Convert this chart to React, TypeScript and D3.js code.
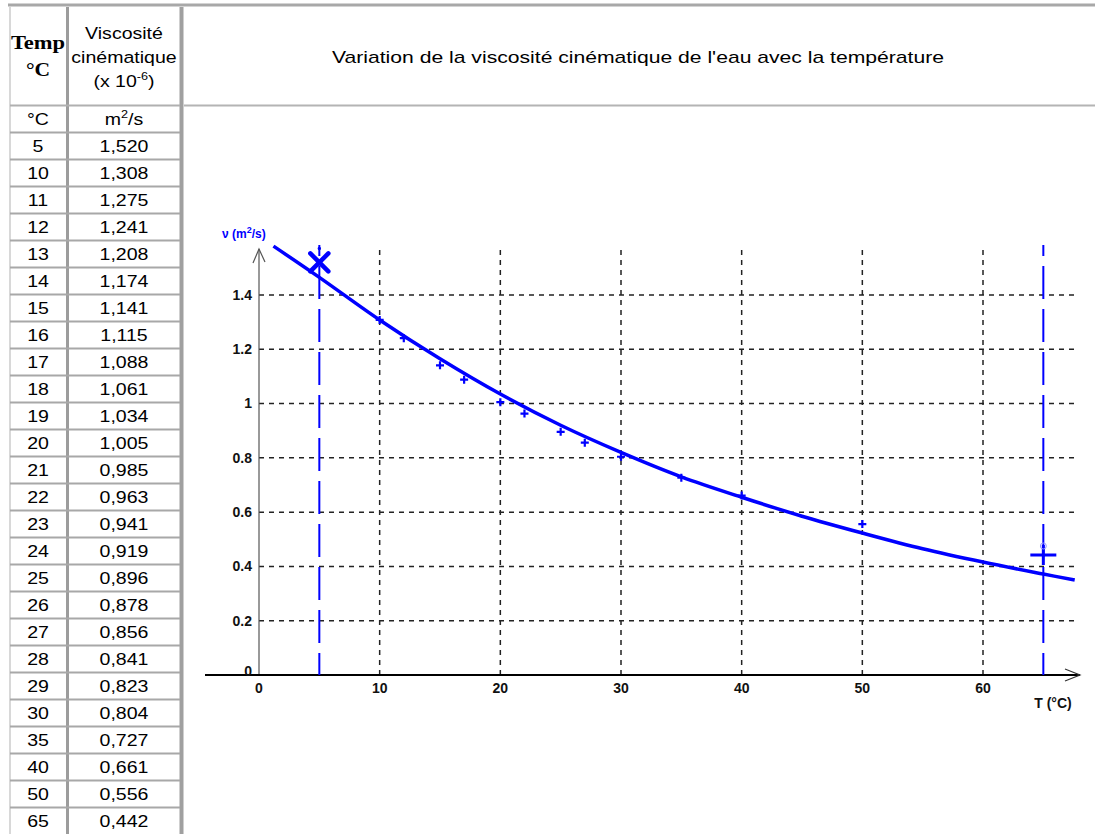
import * as d3 from "d3";
import type { ReactNode } from "react";

// table values
const tableTemps = [5, 10, 11, 12, 13, 14, 15, 16, 17, 18, 19, 20, 21, 22, 23, 24, 25, 26, 27, 28, 29, 30, 35, 40, 50, 65];
const tableNu = [1.52, 1.308, 1.275, 1.241, 1.208, 1.174, 1.141, 1.115, 1.088, 1.061, 1.034, 1.005, 0.985, 0.963, 0.941, 0.919, 0.896, 0.878, 0.856, 0.841, 0.823, 0.804, 0.727, 0.661, 0.556, 0.442];

// points plotted as small crosses
const plotTemps = [10, 12, 15, 17, 20, 22, 25, 27, 30, 35, 40, 50];
// the two end points marked with big symbols and dashed lines
const endTemps = [5, 65];

// fitted curve
const fitTemps = [1.2, 5, 10, 15, 20, 25, 30, 35, 40, 45, 50, 55, 60, 65, 67.6];
const fitNu = [1.58, 1.465, 1.308, 1.165, 1.035, 0.92, 0.82, 0.73, 0.655, 0.585, 0.523, 0.465, 0.416, 0.372, 0.35];

const xTicks = [0, 10, 20, 30, 40, 50, 60];
const yTicks = [0, 0.2, 0.4, 0.6, 0.8, 1, 1.2, 1.4];
const yTickLabels = ["0", "0.2", "0.4", "0.6", "0.8", "1", "1.2", "1.4"];

const title = "Variation de la viscosité cinématique de l'eau avec la température";

const W = 1095;
const H = 834;
const sans = "'Liberation Sans', Arial, sans-serif";
const serif = "'Liberation Serif', 'Times New Roman', serif";
const blue = "#0000ff";

const nuOf = (t: number) => tableNu[tableTemps.indexOf(t)];
const fmt = (v: number) => v.toFixed(3).replace(".", ",");

// the screenshot is a bit stretched sideways, so text gets a horizontal scale
function SText({ x, y, sx = 1.15, children, ...rest }: { x: number; y: number; sx?: number; children: ReactNode; [k: string]: any }) {
  return (
    <g transform={`translate(${x},${y}) scale(${sx},1)`}>
      <text x={0} y={0} textAnchor="middle" {...rest}>{children}</text>
    </g>
  );
}

export default function App() {
  const x = d3.scaleLinear().domain([0, 60]).range([259, 983]);
  const y = d3.scaleLinear().domain([0, 1.4]).range([675, 295]);

  const rowTop = 132;
  const rowH = 27;
  const col1 = 38;
  const col2 = 124;

  const line = d3
    .line<number>()
    .x((d, i) => x(fitTemps[i]))
    .y((d) => y(d))
    .curve(d3.curveCatmullRom);

  const gridTop = 245;
  const gridRight = 1075;

  return (
    <svg width={W} height={H} style={{ position: "fixed", left: 0, top: 0, background: "#fff" }}>
      {/* table frame */}
      <line x1={8} x2={W} y1={5} y2={5} stroke="#a8a8a8" strokeWidth={3} />
      <line x1={10} x2={10} y1={7} y2={H} stroke="#d8d8d8" strokeWidth={2} />
      <line x1={67.5} x2={67.5} y1={7} y2={H} stroke="#9c9c9c" strokeWidth={3} />
      <line x1={181.5} x2={181.5} y1={7} y2={H} stroke="#a0a0a0" strokeWidth={4} />
      <line x1={184} x2={W} y1={105.5} y2={105.5} stroke="#b4b4b4" strokeWidth={2} />
      <line x1={10} x2={180} y1={105.5} y2={105.5} stroke="#b0b0b0" strokeWidth={2} />
      {tableTemps.map((t, i) => (
        <line key={`rl-${t}`} x1={10} x2={180} y1={rowTop + rowH * i + 0.5} y2={rowTop + rowH * i + 0.5} stroke="#a8a8a8" strokeWidth={2} />
      ))}

      {/* header */}
      <g fontFamily={serif} fontWeight="bold" fontSize={18} fill="#000">
        <SText x={col1} y={49} sx={1.25}>Temp</SText>
        <SText x={col1} y={76} sx={1.2}>°C</SText>
      </g>
      <g fontFamily={sans} fontSize={17} fill="#000">
        <SText x={col2} y={39}>Viscosité</SText>
        <SText x={col2} y={63}>cinématique</SText>
        <SText x={col2} y={87}>
          (x 10<tspan dy={-7} fontSize={11}>-6</tspan>
          <tspan dy={7}>)</tspan>
        </SText>
      </g>

      {/* unit row and values */}
      <g fontFamily={sans} fontSize={17} fill="#000">
        <SText x={col1} y={125}>°C</SText>
        <SText x={col2} y={125}>
          m<tspan dy={-7} fontSize={11}>2</tspan>
          <tspan dy={7}>/s</tspan>
        </SText>
        {tableTemps.map((t, i) => (
          <g key={`row-${t}`}>
            <SText x={col1} y={rowTop + rowH * i + 19.5}>{t}</SText>
            <SText x={col2} y={rowTop + rowH * i + 19.5}>{fmt(tableNu[i])}</SText>
          </g>
        ))}
      </g>

      {/* chart title */}
      <text x={638} y={63} textAnchor="middle" fontFamily={sans} fontSize={17} fill="#000" textLength={612} lengthAdjust="spacingAndGlyphs">{title}</text>

      {/* grid */}
      <g stroke="#222" strokeWidth={1.5} strokeDasharray="5 5">
        {xTicks.filter((t) => t > 0).map((t) => (
          <line key={`gx-${t}`} x1={x(t)} x2={x(t)} y1={y(0)} y2={gridTop} />
        ))}
        {yTicks.filter((t) => t > 0).map((t) => (
          <line key={`gy-${t}`} x1={x(0)} x2={gridRight} y1={y(t)} y2={y(t)} />
        ))}
      </g>

      {/* axes */}
      <line x1={x(0)} x2={x(0)} y1={y(0)} y2={249} stroke="#555" strokeWidth={1.2} />
      <path d={`M253,263 L${x(0)},249 L265,262`} fill="none" stroke="#555" strokeWidth={1.2} />
      <line x1={205} x2={1080} y1={y(0)} y2={y(0)} stroke="#000" strokeWidth={2} />
      <path d="M1065,669 L1080,675 L1065,681" fill="none" stroke="#333" strokeWidth={1.2} />

      {/* tick labels */}
      <g fontFamily={sans} fontWeight="bold" fontSize={14} fill="#111">
        {yTicks.map((t, i) => (
          <text key={`yl-${t}`} x={252} y={y(t) - (t === 0 ? 4 : 0)} dy="0.35em" textAnchor="end">{yTickLabels[i]}</text>
        ))}
        {xTicks.map((t) => (
          <text key={`xl-${t}`} x={x(t)} y={693} textAnchor="middle">{t}</text>
        ))}
        <text x={1053} y={708} textAnchor="middle">T (°C)</text>
      </g>
      <text x={222} y={238} fontFamily={sans} fontWeight="bold" fontSize={12} fill={blue}>
        ν (m<tspan dy={-5} fontSize={9}>2</tspan><tspan dy={5}>/s)</tspan>
      </text>

      {/* dashed verticals at the end points */}
      {endTemps.map((t) => (
        <line key={`ev-${t}`} x1={x(t)} x2={x(t)} y1={y(0)} y2={245} stroke={blue} strokeWidth={2} strokeDasharray="33 10" strokeDashoffset={11} />
      ))}

      {/* fitted curve */}
      <path d={line(fitNu) ?? ""} fill="none" stroke={blue} strokeWidth={3.5} />

      {/* points */}
      <g stroke={blue} strokeWidth={2.2}>
        {plotTemps.map((t) => {
          const cx = x(t);
          const cy = y(nuOf(t));
          return <path key={`pt-${t}`} d={`M${cx - 4},${cy} H${cx + 4} M${cx},${cy - 4} V${cy + 4}`} />;
        })}
      </g>

      {/* end point markers */}
      {(() => {
        const cx = x(endTemps[0]);
        const cy = y(nuOf(endTemps[0]));
        return (
          <g stroke={blue} strokeWidth={4.5} strokeLinecap="round">
            <path d={`M${cx - 9},${cy - 9} L${cx + 9},${cy + 9} M${cx + 9},${cy - 9} L${cx - 9},${cy + 9}`} />
            <circle cx={cx} cy={cy - 14} r={1} strokeWidth={1.5} />
          </g>
        );
      })()}
      {(() => {
        const cx = x(endTemps[1]);
        const cy = y(nuOf(endTemps[1]));
        return (
          <g stroke={blue} strokeWidth={3}>
            <path d={`M${cx - 13},${cy} H${cx + 13} M${cx},${cy - 10} V${cy + 10}`} />
            <circle cx={cx} cy={cy - 9} r={3} fill="none" stroke="#9999ff" strokeWidth={1} />
          </g>
        );
      })()}
    </svg>
  );
}
